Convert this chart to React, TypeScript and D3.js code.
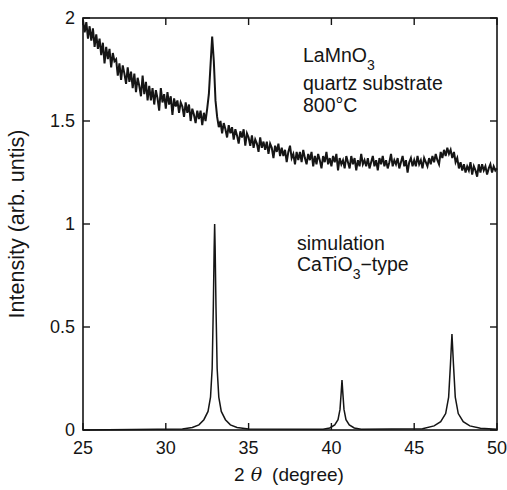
import React from 'react';
import * as d3 from 'd3';

// measured pattern, LaMnO3 on quartz, 25.0 .. 50.0 deg, step 0.1
const measStart = 25;
const measStep = 0.1;
const measured = [
  1.99, 1.93, 1.98, 1.90, 1.96, 1.89, 1.95, 1.86, 1.92, 1.85,
  1.90, 1.82, 1.88, 1.78, 1.86, 1.80, 1.85, 1.76, 1.83, 1.79,
  1.80, 1.72, 1.78, 1.70, 1.77, 1.73, 1.68, 1.76, 1.69, 1.74,
  1.66, 1.73, 1.64, 1.71, 1.67, 1.62, 1.72, 1.63, 1.69, 1.60,
  1.67, 1.60, 1.66, 1.58, 1.65, 1.61, 1.55, 1.66, 1.59, 1.63,
  1.56, 1.64, 1.58, 1.62, 1.53, 1.61, 1.57, 1.60, 1.54, 1.59,
  1.57, 1.52, 1.59, 1.54, 1.58, 1.50, 1.56, 1.53, 1.49, 1.55,
  1.51, 1.55, 1.48, 1.54, 1.50, 1.56, 1.63, 1.77, 1.91, 1.79,
  1.60, 1.52, 1.47, 1.50, 1.44, 1.49, 1.46, 1.42, 1.48, 1.44,
  1.47, 1.41, 1.46, 1.43, 1.39, 1.45, 1.42, 1.46, 1.38, 1.44,
  1.42, 1.38, 1.43, 1.37, 1.41, 1.39, 1.35, 1.42, 1.37, 1.40,
  1.36, 1.40, 1.34, 1.39, 1.37, 1.32, 1.38, 1.35, 1.39, 1.33,
  1.37, 1.33, 1.36, 1.30, 1.35, 1.38, 1.32, 1.34, 1.29, 1.35,
  1.31, 1.35, 1.30, 1.36, 1.32, 1.29, 1.34, 1.31, 1.35, 1.28,
  1.33, 1.29, 1.34, 1.31, 1.27, 1.33, 1.30, 1.35, 1.29, 1.32,
  1.28, 1.33, 1.30, 1.34, 1.26, 1.32, 1.29, 1.31, 1.27, 1.33,
  1.30, 1.27, 1.33, 1.29, 1.32, 1.26, 1.31, 1.28, 1.34, 1.29,
  1.31, 1.28, 1.32, 1.27, 1.30, 1.33, 1.28, 1.31, 1.26, 1.32,
  1.29, 1.33, 1.28, 1.31, 1.27, 1.30, 1.34, 1.28, 1.31, 1.29,
  1.32, 1.27, 1.30, 1.33, 1.28, 1.31, 1.25, 1.30, 1.32, 1.28,
  1.31, 1.28, 1.33, 1.29, 1.31, 1.27, 1.32, 1.30, 1.28, 1.32,
  1.29, 1.33, 1.30, 1.34, 1.31, 1.29, 1.35, 1.32, 1.36, 1.33,
  1.37, 1.34, 1.36, 1.32, 1.35, 1.30, 1.32, 1.27, 1.30, 1.26,
  1.29, 1.25, 1.28, 1.26, 1.30, 1.24, 1.28, 1.26, 1.23, 1.29,
  1.25, 1.29, 1.26, 1.28, 1.24, 1.27, 1.29, 1.25, 1.28, 1.26,
  1.27,
];

// simulated CaTiO3-type pattern
const simAngle = [
  25.0, 31.0, 31.6, 32.0, 32.3, 32.55, 32.7, 32.8, 32.87, 32.92, 32.95, 32.98, 33.03, 33.1, 33.2, 33.35, 33.6, 33.9, 34.3, 35.0,
  39.5, 39.9, 40.2, 40.4, 40.52, 40.59, 40.64, 40.69, 40.76, 40.88, 41.08, 41.38, 41.8,
  45.5, 46.2, 46.6, 46.9, 47.08, 47.19, 47.28, 47.37, 47.48, 47.66, 47.96, 48.36, 49.0, 50.0,
];
const simIntensity = [
  0.0, 0.005, 0.012, 0.025, 0.05, 0.09, 0.16, 0.3, 0.6, 0.88, 1.0, 0.88, 0.6, 0.3, 0.16, 0.09, 0.05, 0.025, 0.012, 0.005,
  0.004, 0.01, 0.025, 0.05, 0.1, 0.18, 0.243, 0.18, 0.1, 0.05, 0.025, 0.01, 0.004,
  0.006, 0.02, 0.04, 0.08, 0.16, 0.32, 0.466, 0.32, 0.16, 0.08, 0.04, 0.02, 0.008, 0.004,
];

const xTicks = [25, 30, 35, 40, 45, 50];
const yTicks = [0, 0.5, 1, 1.5, 2];
const yTickLabels = ['0', '0.5', '1', '1.5', '2'];

const W = 507;
const H = 490;
const m = { left: 83, right: 10, top: 18, bottom: 60 };

export default function App() {
  const x = d3.scaleLinear().domain([25, 50]).range([m.left, W - m.right]);
  const y = d3.scaleLinear().domain([0, 2]).range([H - m.bottom, m.top]);

  const measPts: [number, number][] = measured.map((v, i) => [measStart + i * measStep, v]);
  const simPts: [number, number][] = simAngle.map((a, i) => [a, simIntensity[i]]);

  const line = d3.line<[number, number]>()
    .x(d => x(d[0]))
    .y(d => y(d[1]));

  const tl = 7;
  const ink = '#151515';
  const font = 'Liberation Sans, Arial, sans-serif';

  return (
    <svg width={W} height={H} style={{ position: 'absolute', left: 0, top: 0, background: '#fff' }}
      fontFamily={font}>
      {/* data */}
      <path d={line(measPts) || ''} fill="none" stroke={ink} strokeWidth={2} strokeLinejoin="miter" />
      <path d={line(simPts) || ''} fill="none" stroke={ink} strokeWidth={1.5} />

      {/* frame */}
      <rect x={x(25)} y={y(2)} width={x(50) - x(25)} height={y(0) - y(2)} fill="none" stroke={ink} strokeWidth={1.6} />

      {/* x ticks, inside, top and bottom */}
      {xTicks.map(t => (
        <g key={'x' + t}>
          <line x1={x(t)} x2={x(t)} y1={y(0)} y2={y(0) - tl} stroke={ink} strokeWidth={1.4} />
          <line x1={x(t)} x2={x(t)} y1={y(2)} y2={y(2) + tl} stroke={ink} strokeWidth={1.4} />
          <text x={x(t)} y={y(0) + 24} textAnchor="middle" fontSize={18} fill={ink}>{t}</text>
        </g>
      ))}

      {/* y ticks, inside, left and right */}
      {yTicks.map((t, i) => (
        <g key={'y' + t}>
          <line x1={x(25)} x2={x(25) + tl} y1={y(t)} y2={y(t)} stroke={ink} strokeWidth={1.4} />
          <line x1={x(50)} x2={x(50) - tl} y1={y(t)} y2={y(t)} stroke={ink} strokeWidth={1.4} />
          <text x={x(25) - 8} y={y(t) + 6} textAnchor="end" fontSize={18} fill={ink}>{yTickLabels[i]}</text>
        </g>
      ))}

      {/* axis titles */}
      <text x={289} y={481} textAnchor="middle" fontSize={19} fill={ink}>
        2<tspan dx={6} fontStyle="italic" fontFamily="DejaVu Serif, serif">θ</tspan>
        <tspan dx={10}>(degree)</tspan>
      </text>
      <text transform={`translate(24,${(y(0) + y(2)) / 2}) rotate(-90)`} textAnchor="middle" fontSize={21.5} fill={ink}>
        Intensity (arb. untis)
      </text>

      {/* annotations */}
      <text x={303} y={62} fontSize={19.5} fill={ink}>
        LaMnO<tspan fontSize={14} dy={8}>3</tspan>
      </text>
      <text x={303} y={90} fontSize={19.5} fill={ink}>quartz substrate</text>
      <text x={303} y={112} fontSize={19.5} fill={ink}>800°C</text>
      <text x={297} y={250} fontSize={19.5} fill={ink}>simulation</text>
      <text x={297} y={271} fontSize={19.5} fill={ink}>
        CaTiO<tspan fontSize={14} dy={8}>3</tspan><tspan dy={-8}>−type</tspan>
      </text>
    </svg>
  );
}
